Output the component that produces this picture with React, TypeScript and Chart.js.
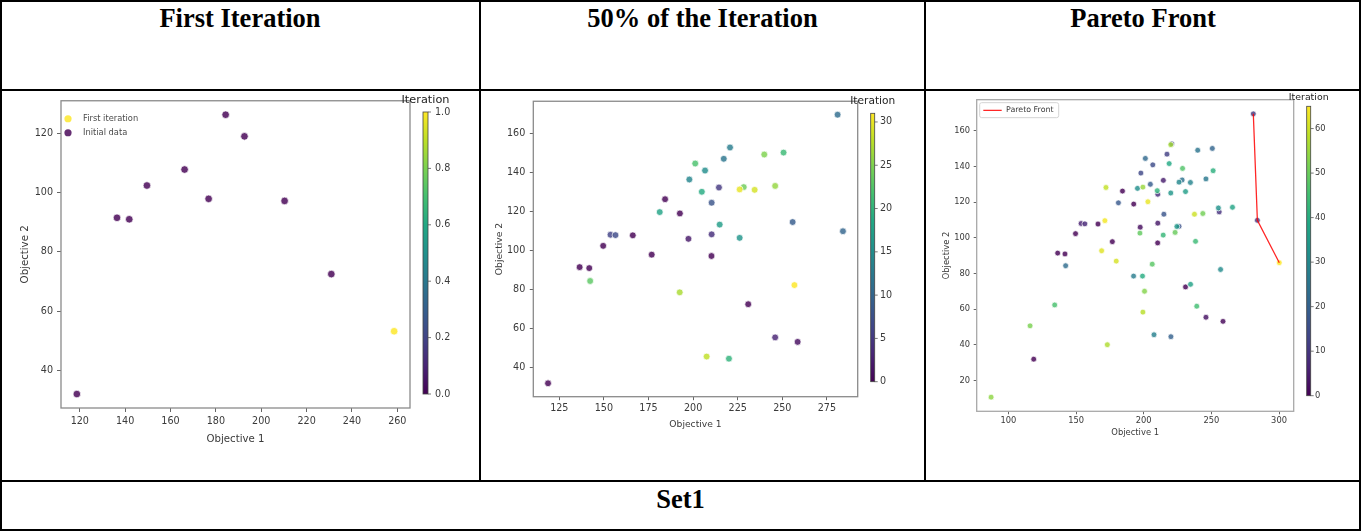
import React, { useEffect, useRef } from "react";
import { Chart, registerables } from "chart.js";

Chart.register(...registerables);

// Initial sampled designs (iteration 0)
const initialObjective1 = [118.7, 136.4, 141.8, 149.6, 166.2, 176.8, 184.3, 192.6, 210.3, 230.9];
const initialObjective2 = [32.0, 91.5, 91.0, 102.4, 107.8, 97.9, 126.3, 119.0, 97.2, 72.5];

// One evaluated design per optimisation iteration, iterations 1..65 in order
const iterationObjective1 = [
  258.6, 197.4, 246.0, 210.4, 214.5, 153.7, 156.5, 210.4, 255.8, 284.0,
  281.0, 217.2, 220.7, 197.9, 206.7, 226.1, 214.9, 181.3, 204.9, 220.1,
  250.7, 201.2, 142.3, 228.4, 239.9, 246.0, 192.5, 207.6, 234.5, 226.1,
  256.8, 195.4, 255.2, 220.0, 224.5, 230.9, 234.6, 265.6, 218.8, 199.1,
  251.3, 210.0, 214.4, 238.3, 239.2, 134.2, 228.7, 206.3, 197.2, 223.2,
  243.7, 116.0, 200.6, 87.2, 199.4, 220.0, 173.1, 199.4, 172.1, 237.5,
  179.7, 168.9, 203.1, 171.3, 300.2,
];
const iterationObjective2 = [
  53.2, 106.0, 55.5, 108.3, 132.3, 108.1, 107.9, 124.5, 114.6, 109.9,
  169.6, 147.0, 152.8, 136.4, 141.0, 106.5, 113.3, 119.7, 130.1, 44.6,
  150.2, 144.6, 84.4, 132.5, 149.2, 133.1, 78.6, 45.7, 131.1, 131.3,
  82.3, 127.8, 116.8, 125.2, 106.4, 126.0, 74.0, 117.2, 141.7, 78.6,
  137.7, 126.5, 101.6, 98.1, 61.7, 62.4, 139.0, 85.3, 102.7, 103.1,
  113.7, 50.7, 70.1, 10.7, 128.5, 152.3, 40.1, 58.4, 128.3, 113.3,
  87.0, 92.8, 120.3, 109.7, 86.1,
];

// Non-dominated designs of the final population
const paretoObjective1 = [281.0, 284.0, 300.2];
const paretoObjective2 = [169.6, 109.9, 86.1];

// Table text
const headerLabels = ["First Iteration", "50% of the Iteration", "Pareto Front"];
const footerLabel = "Set1";

// Iteration shown up to in each panel
const lastIterations = [1, 31, 65];

// Axis ticks
const xTicksFirst = [120, 140, 160, 180, 200, 220, 240, 260];
const yTicksFirst = [40, 60, 80, 100, 120];
const xTicksHalf = [125, 150, 175, 200, 225, 250, 275];
const yTicksHalf = [40, 60, 80, 100, 120, 140, 160];
const xTicksPareto = [100, 150, 200, 250, 300];
const yTicksPareto = [20, 40, 60, 80, 100, 120, 140, 160];
const colorbarTicksFirst = [0, 0.2, 0.4, 0.6, 0.8, 1.0];
const colorbarTicksHalf = [0, 5, 10, 15, 20, 25, 30];
const colorbarTicksPareto = [0, 10, 20, 30, 40, 50, 60];

const FONT = '"DejaVu Sans", sans-serif';
const TEXT = "#3a3a3a";
const VIRIDIS = [
  "#440154", "#482475", "#414487", "#355f8d", "#2a788e", "#21918c",
  "#22a884", "#44bf70", "#7ad151", "#bddf26", "#fde725",
];

function hexToRgb(h: string): number[] {
  return [1, 3, 5].map((i) => parseInt(h.slice(i, i + 2), 16));
}

function viridis(t: number, alpha = 1): string {
  const c = Math.min(1, Math.max(0, t)) * (VIRIDIS.length - 1);
  const i = Math.min(VIRIDIS.length - 2, Math.floor(c));
  const f = c - i;
  const a = hexToRgb(VIRIDIS[i]);
  const b = hexToRgb(VIRIDIS[i + 1]);
  const rgb = a.map((v, k) => Math.round(v + (b[k] - v) * f));
  return `rgba(${rgb[0]},${rgb[1]},${rgb[2]},${alpha})`;
}

type Pt = { x: number; y: number; it: number };

function pointsUpTo(last: number): Pt[] {
  const pts: Pt[] = initialObjective1.map((x, i) => ({ x, y: initialObjective2[i], it: 0 }));
  for (let i = 0; i < last; i++) {
    pts.push({ x: iterationObjective1[i], y: iterationObjective2[i], it: i + 1 });
  }
  return pts;
}

function paddedRange(vals: number[]): [number, number] {
  const lo = Math.min(...vals);
  const hi = Math.max(...vals);
  const m = (hi - lo) * 0.05;
  return [lo - m, hi + m];
}

type PanelSpec = {
  last: number;
  box: { left: number; top: number; width: number; height: number };
  padding: { left: number; top: number; right: number; bottom: number };
  yAxisWidth: number;
  xAxisHeight: number;
  xTicks: number[];
  yTicks: number[];
  tickFont: number;
  titleFont: number;
  tickLen: number;
  xTickPad: number;
  yTickPad: number;
  pointRadius: number;
  frameColor: string;
  cbar: {
    left: number; top: number; width: number; bottom: number;
    labelX: number; titleY: number; titleFont: number;
    ticks: number[]; digits: number;
  };
  legend: "first" | "pareto" | null;
};

const panels: PanelSpec[] = [
  {
    last: lastIterations[0],
    box: { left: 2, top: 91, width: 477, height: 389 },
    padding: { left: 17, top: 8, right: 69, bottom: 35 },
    yAxisWidth: 42,
    xAxisHeight: 37,
    xTicks: xTicksFirst,
    yTicks: yTicksFirst,
    tickFont: 9.6,
    titleFont: 10.2,
    tickLen: 4,
    xTickPad: 4,
    yTickPad: 4,
    pointRadius: 3.8,
    frameColor: "#8a8a8a",
    cbar: { left: 421, top: 21, width: 5, bottom: 303, labelX: 433, titleY: 9, titleFont: 11.3, ticks: colorbarTicksFirst, digits: 1 },
    legend: "first",
  },
  {
    last: lastIterations[1],
    box: { left: 481, top: 91, width: 443, height: 389 },
    padding: { left: 13.5, top: 9.7, right: 66.3, bottom: 49.5 },
    yAxisWidth: 38.8,
    xAxisHeight: 33.8,
    xTicks: xTicksHalf,
    yTicks: yTicksHalf,
    tickFont: 9.6,
    titleFont: 9.2,
    tickLen: 3.5,
    xTickPad: 3,
    yTickPad: 4.5,
    pointRadius: 3.4,
    frameColor: "#8a8a8a",
    cbar: { left: 389.7, top: 22.3, width: 4, bottom: 290.7, labelX: 399, titleY: 10.7, titleFont: 10.6, ticks: colorbarTicksHalf, digits: 0 },
    legend: null,
  },
  {
    last: lastIterations[2],
    box: { left: 926, top: 91, width: 433, height: 389 },
    padding: { left: 15.7, top: 3, right: 65.3, bottom: 41.7 },
    yAxisWidth: 35,
    xAxisHeight: 27,
    xTicks: xTicksPareto,
    yTicks: yTicksPareto,
    tickFont: 8.3,
    titleFont: 8.4,
    tickLen: 3,
    xTickPad: 1.7,
    yTickPad: 3.7,
    pointRadius: 2.9,
    frameColor: "#a8a8a8",
    cbar: { left: 380.7, top: 15.3, width: 4, bottom: 304.7, labelX: 389, titleY: 6.7, titleFont: 9.4, ticks: colorbarTicksPareto, digits: 0 },
    legend: "pareto",
  },
];

function buildChart(canvas: HTMLCanvasElement, spec: PanelSpec): Chart {
  const pts = pointsUpTo(spec.last);
  const xRange = paddedRange(pts.map((p) => p.x));
  const yRange = paddedRange(pts.map((p) => p.y));
  const colorOf = (it: number) => viridis(it / spec.last, 0.82);

  const scatterStyle = {
    pointRadius: spec.pointRadius,
    pointBorderColor: "rgba(255,255,255,0.9)",
    pointBorderWidth: 0.8,
    showLine: false,
  };

  const datasets: any[] = [];
  if (spec.legend === "first") {
    const init = pts.filter((p) => p.it === 0);
    const first = pts.filter((p) => p.it === 1);
    datasets.push({ label: "Initial data", data: init, pointBackgroundColor: init.map((p) => colorOf(p.it)), order: 2, ...scatterStyle });
    datasets.push({ label: "First iteration", data: first, pointBackgroundColor: first.map((p) => colorOf(p.it)), order: 1, ...scatterStyle });
  } else {
    datasets.push({ label: "Designs", data: pts, pointBackgroundColor: pts.map((p) => colorOf(p.it)), order: 2, ...scatterStyle });
  }
  if (spec.legend === "pareto") {
    datasets.push({
      label: "Pareto Front",
      data: paretoObjective1.map((x, i) => ({ x, y: paretoObjective2[i] })),
      showLine: true,
      borderColor: "rgba(255,0,0,0.85)",
      borderWidth: 1.3,
      pointRadius: 0,
      order: 0,
    });
  }

  const tickFont = { family: FONT, size: spec.tickFont };
  const titleFont = { family: FONT, size: spec.titleFont };
  const grid = { drawOnChartArea: false, drawTicks: true, tickLength: spec.tickLen, tickColor: "#666", tickWidth: 1 };

  const framePlugin = {
    id: "frame",
    beforeDatasetsDraw(chart: any) {
      const { left, top, right, bottom } = chart.chartArea;
      const ctx = chart.ctx;
      ctx.save();
      ctx.strokeStyle = spec.frameColor;
      ctx.lineWidth = 1.3;
      ctx.strokeRect(left, top, right - left, bottom - top);
      ctx.restore();
    },
  };

  const colorbarPlugin = {
    id: "colorbar",
    afterDraw(chart: any) {
      const ctx = chart.ctx;
      const cb = spec.cbar;
      const h = cb.bottom - cb.top;
      ctx.save();
      const grad = ctx.createLinearGradient(0, cb.bottom, 0, cb.top);
      VIRIDIS.forEach((c, i) => grad.addColorStop(i / (VIRIDIS.length - 1), c));
      ctx.fillStyle = grad;
      ctx.fillRect(cb.left, cb.top, cb.width, h);
      ctx.strokeStyle = "#444";
      ctx.lineWidth = 0.8;
      ctx.strokeRect(cb.left, cb.top, cb.width, h);
      ctx.font = `${spec.tickFont}px ${FONT}`;
      ctx.fillStyle = TEXT;
      ctx.textAlign = "left";
      ctx.textBaseline = "middle";
      const right = cb.left + cb.width;
      cb.ticks.forEach((v) => {
        const y = cb.bottom - (v / spec.last) * h;
        ctx.beginPath();
        ctx.moveTo(right, y);
        ctx.lineTo(right + 3, y);
        ctx.strokeStyle = "#555";
        ctx.stroke();
        ctx.fillText(v.toFixed(cb.digits), cb.labelX, y);
      });
      ctx.font = `${cb.titleFont}px ${FONT}`;
      ctx.fillStyle = "#222";
      ctx.textAlign = "center";
      ctx.fillText("Iteration", cb.left + cb.width / 2, cb.titleY);
      ctx.restore();
    },
  };

  const legendPlugin = {
    id: "insetLegend",
    afterDraw(chart: any) {
      if (!spec.legend) return;
      const ctx = chart.ctx;
      const { left, top } = chart.chartArea;
      ctx.save();
      if (spec.legend === "first") {
        const items = [
          { label: "First iteration", color: colorOf(1), dy: 18 },
          { label: "Initial data", color: colorOf(0), dy: 32 },
        ];
        ctx.font = `8.3px ${FONT}`;
        ctx.textBaseline = "middle";
        ctx.textAlign = "left";
        items.forEach((it) => {
          ctx.beginPath();
          ctx.arc(left + 7, top + it.dy, 3.6, 0, Math.PI * 2);
          ctx.fillStyle = it.color;
          ctx.fill();
          ctx.fillStyle = "#4a4a4a";
          ctx.fillText(it.label, left + 22, top + it.dy);
        });
      } else {
        const bx = left + 3;
        const by = top + 3;
        ctx.fillStyle = "rgba(255,255,255,0.85)";
        ctx.strokeStyle = "#d4d4d4";
        ctx.lineWidth = 1;
        ctx.beginPath();
        (ctx as any).roundRect(bx, by, 79, 15, 2);
        ctx.fill();
        ctx.stroke();
        ctx.beginPath();
        ctx.moveTo(left + 6.6, top + 10.7);
        ctx.lineTo(left + 25, top + 10.7);
        ctx.strokeStyle = "rgba(255,0,0,0.85)";
        ctx.lineWidth = 1.3;
        ctx.stroke();
        ctx.font = `7.9px ${FONT}`;
        ctx.fillStyle = "#3a3a3a";
        ctx.textBaseline = "middle";
        ctx.textAlign = "left";
        ctx.fillText("Pareto Front", left + 29.3, top + 10.7);
      }
      ctx.restore();
    },
  };

  return new Chart(canvas, {
    type: "scatter",
    data: { datasets },
    options: {
      animation: false,
      responsive: false,
      maintainAspectRatio: false,
      devicePixelRatio: 1,
      events: [],
      layout: { padding: spec.padding },
      plugins: { legend: { display: false }, tooltip: { enabled: false } },
      scales: {
        x: {
          type: "linear",
          position: "bottom",
          min: xRange[0],
          max: xRange[1],
          afterBuildTicks: (s: any) => {
            s.ticks = spec.xTicks.map((v) => ({ value: v }));
          },
          afterFit: (s: any) => {
            s.height = spec.xAxisHeight;
          },
          grid,
          border: { display: false },
          ticks: { font: tickFont, color: TEXT, padding: spec.xTickPad, maxRotation: 0, autoSkip: false, callback: (v: any) => String(v) },
          title: { display: true, text: "Objective 1", font: titleFont, color: TEXT, padding: 0 },
        },
        y: {
          type: "linear",
          position: "left",
          min: yRange[0],
          max: yRange[1],
          afterBuildTicks: (s: any) => {
            s.ticks = spec.yTicks.map((v) => ({ value: v }));
          },
          afterFit: (s: any) => {
            s.width = spec.yAxisWidth;
          },
          grid,
          border: { display: false },
          ticks: { font: tickFont, color: TEXT, padding: spec.yTickPad, autoSkip: false, callback: (v: any) => String(v) },
          title: { display: true, text: "Objective 2", font: titleFont, color: TEXT, padding: 0 },
        },
      },
    } as any,
    plugins: [framePlugin, colorbarPlugin, legendPlugin],
  });
}

function Panel({ spec }: { spec: PanelSpec }) {
  const ref = useRef<HTMLCanvasElement>(null);
  useEffect(() => {
    const chart = buildChart(ref.current!, spec);
    return () => chart.destroy();
  }, [spec]);
  const { left, top, width, height } = spec.box;
  return (
    <canvas
      ref={ref}
      width={width}
      height={height}
      style={{ position: "absolute", left, top, width, height }}
    />
  );
}

const line = (left: number, top: number, width: number, height: number): React.CSSProperties => ({
  position: "absolute",
  left,
  top,
  width,
  height,
  background: "#000",
});

const headStyle: React.CSSProperties = {
  position: "absolute",
  fontFamily: '"Liberation Serif", "Times New Roman", serif',
  fontWeight: "bold",
  fontSize: 26.5,
  lineHeight: "26.5px",
  textAlign: "center",
  color: "#000",
  whiteSpace: "nowrap",
};

export default function App() {
  const cellEdges = [0, 480, 925, 1361];
  return (
    <div style={{ position: "absolute", left: 0, top: 0, width: 1361, height: 531, background: "#fff", overflow: "hidden" }}>
      {headerLabels.map((t, i) => (
        <div key={t} style={{ ...headStyle, left: cellEdges[i], width: cellEdges[i + 1] - cellEdges[i], top: 5 }}>
          {t}
        </div>
      ))}
      <div style={{ ...headStyle, left: 0, width: 1361, top: 485.5 }}>{footerLabel}</div>
      {panels.map((p, i) => (
        <Panel key={i} spec={p} />
      ))}
      {/* table rules */}
      <div style={line(0, 0, 1361, 2)} />
      <div style={line(0, 529, 1361, 2)} />
      <div style={line(0, 0, 2, 531)} />
      <div style={line(1359, 0, 2, 531)} />
      <div style={line(0, 89, 1361, 2)} />
      <div style={line(0, 480, 1361, 2)} />
      <div style={line(479, 0, 2, 481)} />
      <div style={line(924, 0, 2, 481)} />
    </div>
  );
}
